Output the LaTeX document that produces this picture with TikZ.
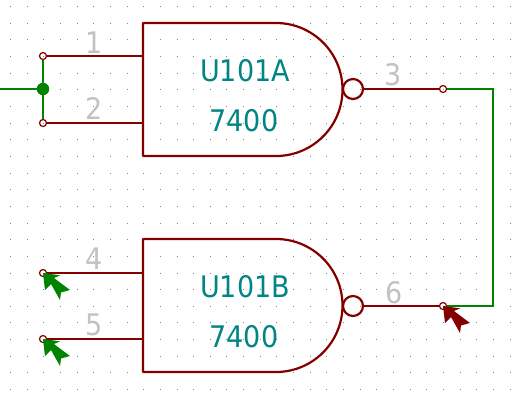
\documentclass[tikz,border=0pt]{standalone}
\usepackage{fontspec}
\setmainfont{DejaVu Sans}
\definecolor{sym}{HTML}{840000}
\definecolor{wirec}{HTML}{008400}
\definecolor{teal2}{HTML}{008484}
\definecolor{pinc}{HTML}{C2C2C2}
\definecolor{dotc}{HTML}{848484}
\tikzset{
  gate/.style={draw=sym,line width=2.2pt,line join=round},
  pinline/.style={draw=sym,line width=2.2pt},
  wire/.style={draw=wirec,line width=2.2pt},
  pinend/.style={circle,draw=sym,line width=1.2pt,minimum size=7pt,inner sep=0pt,fill=none},
  bubble/.style={circle,draw=sym,line width=2.2pt,minimum size=20pt,inner sep=0pt},
  junction/.style={circle,fill=wirec,minimum size=12.5pt,inner sep=0pt},
  refname/.style={text=teal2,font=\fontsize{27}{27}\selectfont,inner sep=0pt},
  pinnum/.style={text=pinc,font=\fontsize{27}{27}\selectfont,inner sep=0pt},
  griddot/.style={fill=dotc}
}
\newcommand{\tall}[1]{\scalebox{1}[1.1]{#1}}
\newcommand{\cursor}[2]{\fill[#2] (#1) -- ++(17,2.3) -- ++(-6,2.7) -- ++(16,12) -- ++(-9,2.5) -- ++(-1,7.5) -- ++(-9,-16) -- ++(-6,6) -- cycle;}
\begin{document}
\begin{tikzpicture}[x=1pt,y=-1pt]
\useasboundingbox (0,0) rectangle (519,402);
\fill[white] (0,0) rectangle (519,402);
\foreach \i in {0,...,30}{\foreach \j in {0,...,23}{
  \pgfmathsetmacro{\dx}{floor(10.4+16.66*\i)}
  \pgfmathsetmacro{\dy}{floor(6.44+16.66*\j)}
  \fill[griddot] (\dx,\dy) rectangle +(1,1);}}
% gate A
\draw[gate] (143,23) -- (276,23) arc[start angle=-90,end angle=90,radius=66.5,y=-1pt] -- (143,156) -- cycle;
% gate B
\draw[gate] (143,239) -- (276,239) arc[start angle=-90,end angle=90,radius=66.5,y=-1pt] -- (143,372) -- cycle;
\coordinate (a1) at (143,56);
\coordinate (a2) at (143,123);
\coordinate (b4) at (143,273);
\coordinate (b5) at (143,339);
\node[pinend] (p1) at (43,56) {};
\node[pinend] (p2) at (43,123) {};
\node[pinend] (p4) at (43,273) {};
\node[pinend] (p5) at (43,339) {};
\node[pinend] (p3) at (443,89) {};
\node[pinend] (p6) at (443,306) {};
\node[bubble] (ba) at (353,89) {};
\node[bubble] (bb) at (353,306) {};
\node[junction] (j) at (43,89) {};
\coordinate (west) at (0,89);
\coordinate (c1) at (493,89);
\coordinate (c2) at (493,306);
\draw[pinline] (p1) -- (a1);
\draw[pinline] (p2) -- (a2);
\draw[pinline] (p4) -- (b4);
\draw[pinline] (p5) -- (b5);
\draw[pinline] (ba) -- (p3);
\draw[pinline] (bb) -- (p6);
\draw[wire] (west) -- (j);
\draw[wire] (p1) -- (j) -- (p2);
\draw[wire] (p3) -- (c1) -- (c2) -- (p6);
\node[pinnum] (n1) at (94,42.5) {\tall{1}};
\node[pinnum] (n2) at (94,108.5) {\tall{2}};
\node[pinnum] (n3) at (393,75) {\tall{3}};
\node[pinnum] (n4) at (94,258.5) {\tall{4}};
\node[pinnum] (n5) at (94,325) {\tall{5}};
\node[pinnum] (n6) at (394,292.5) {\tall{6}};
\node[refname] (ua) at (245,71) {\tall{U101A}};
\node[refname] (va) at (244,121) {\tall{7400}};
\node[refname] (ub) at (245,287) {\tall{U101B}};
\node[refname] (vb) at (244,337) {\tall{7400}};
\cursor{43,273}{wirec}
\cursor{43,339}{wirec}
\cursor{443,306}{sym}
\end{tikzpicture}
\end{document}
